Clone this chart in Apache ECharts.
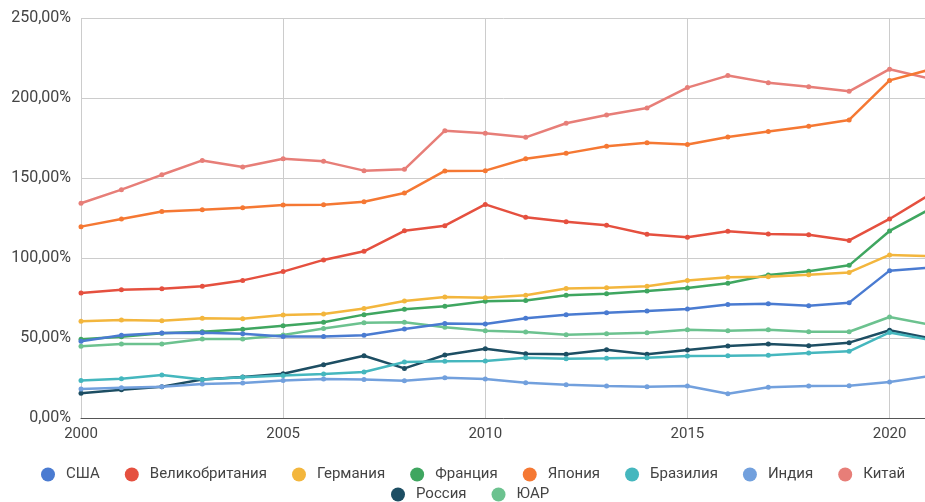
<!DOCTYPE html>
<html>
<head>
<meta charset="utf-8">
<script src="https://cdn.jsdelivr.net/npm/echarts@6/dist/echarts.min.js"></script>
<style>
  html, body { margin: 0; padding: 0; background: #fff; }
  #chart { width: 925px; height: 502px; }
</style>
</head>
<body>
<div id="chart"></div>
<script>
var years = [2000, 2001, 2002, 2003, 2004, 2005, 2006, 2007, 2008, 2009, 2010,
    2011, 2012, 2013, 2014, 2015, 2016, 2017, 2018, 2019, 2020, 2021];

var names = ['США', 'Великобритания', 'Германия', 'Франция', 'Япония',
    'Бразилия', 'Индия', 'Китай', 'Россия', 'ЮАР'];

var colors = ['#4a7bd1', '#e5503f', '#f3b63d', '#3fa660', '#f57833',
    '#45b7be', '#72a0dd', '#e77e78', '#1d4e63', '#6cc28f'];

// values in percent
var usa = [47.9, 51.7, 53.1, 53.3, 52.7, 51.0, 51.0, 51.7, 55.6, 59.0, 58.8,
    62.3, 64.6, 65.8, 66.9, 68.1, 71.0, 71.4, 70.2, 72.1, 92.1, 94.0];
var uk = [78.1, 80.2, 80.8, 82.3, 86.0, 91.5, 98.8, 104.2, 117.0, 120.2, 133.5,
    125.4, 122.7, 120.4, 114.8, 112.9, 116.7, 115.0, 114.6, 111.0, 124.4, 139.7];
var germany = [60.4, 61.3, 60.8, 62.3, 62.0, 64.4, 65.0, 68.5, 73.1, 75.6, 75.2,
    76.7, 81.0, 81.4, 82.3, 86.0, 87.9, 88.3, 89.6, 91.0, 101.9, 101.1];
var france = [49.2, 50.8, 52.9, 53.9, 55.4, 57.7, 59.8, 64.6, 67.9, 69.8, 72.9,
    73.5, 76.7, 77.7, 79.4, 81.3, 84.2, 89.4, 91.7, 95.4, 116.9, 130.6];
var japan = [119.6, 124.4, 129.0, 130.2, 131.4, 133.1, 133.3, 135.2, 140.6, 154.4, 154.6,
    162.0, 165.4, 169.8, 172.0, 171.0, 175.6, 179.0, 182.3, 186.3, 211.0, 217.8];
var brazil = [23.5, 24.6, 26.9, 24.0, 25.5, 26.5, 27.5, 28.8, 35.0, 35.4, 35.6,
    37.7, 37.1, 37.3, 37.7, 38.8, 38.9, 39.2, 40.6, 41.7, 53.5, 48.8];
var india = [18.1, 18.9, 19.6, 21.3, 21.9, 23.5, 24.4, 24.0, 23.3, 25.2, 24.4,
    22.1, 20.8, 20.0, 19.6, 20.0, 15.2, 19.2, 20.0, 20.2, 22.5, 26.3];
var china = [134.2, 142.7, 152.0, 161.0, 156.9, 162.0, 160.4, 154.6, 155.4, 179.6, 177.9,
    175.4, 184.2, 189.4, 193.8, 206.5, 214.0, 209.6, 207.0, 204.2, 218.0, 212.1];
var russia = [15.4, 17.7, 19.6, 24.0, 25.6, 27.7, 33.3, 38.9, 31.0, 39.4, 43.3,
    40.2, 39.8, 42.7, 39.8, 42.5, 45.0, 46.3, 45.2, 47.1, 54.8, 49.8];
var rsa = [44.8, 46.3, 46.3, 49.4, 49.4, 51.9, 56.0, 59.6, 59.8, 56.7, 54.6,
    53.8, 52.1, 52.7, 53.3, 55.2, 54.6, 55.2, 53.9, 53.9, 63.1, 58.3];

var yTicks = [0, 50, 100, 150, 200, 250];

var allValues = [usa, uk, germany, france, japan, brazil, india, china, russia, rsa];

function pct(v) {
    return v.toFixed(2).replace('.', ',') + '%';
}

var series = names.map(function (name, i) {
    return {
        name: name,
        type: 'line',
        data: years.map(function (y, j) { return [y, allValues[i][j]]; }),
        symbol: 'circle',
        symbolSize: 5,
        lineStyle: { width: 2.5, color: colors[i] },
        itemStyle: { color: colors[i] },
        z: 10 - i
    };
});

var chart = echarts.init(document.getElementById('chart'));

var legendText = {
    fontFamily: 'Roboto',
    fontSize: 15,
    color: '#444',
    padding: [0, 0, 0, 6]
};

chart.setOption({
    animation: false,
    color: colors,
    grid: {
        left: 81,
        top: 18,
        bottom: 84,
        right: -5,
        outerBoundsMode: 'none'
    },
    legend: [{
        data: names.slice(0, 8),
        left: 36,
        top: 462,
        width: 900,
        icon: 'circle',
        itemWidth: 14,
        itemHeight: 14,
        itemGap: 25,
        textStyle: legendText
    }, {
        data: names.slice(8),
        left: 386,
        top: 482,
        icon: 'circle',
        itemWidth: 14,
        itemHeight: 14,
        itemGap: 25,
        textStyle: legendText
    }],
    xAxis: {
        type: 'value',
        min: 2000,
        max: 2021,
        interval: 5,
        axisLine: { show: true, onZero: false, lineStyle: { color: '#555', width: 1 } },
        axisTick: { show: false },
        splitLine: { show: true, lineStyle: { color: '#cccccc', width: 1 } },
        axisLabel: {
            showMaxLabel: false,
            margin: 9,
            fontFamily: 'Roboto',
            fontSize: 15,
            color: '#444',
            formatter: function (v) { return String(v); }
        }
    },
    yAxis: {
        type: 'value',
        min: yTicks[0],
        max: yTicks[yTicks.length - 1],
        interval: 50,
        axisLine: { show: false },
        axisTick: { show: false },
        splitLine: { lineStyle: { color: '#cccccc', width: 1 } },
        axisLabel: {
            margin: 10,
            fontFamily: 'Roboto',
            fontSize: 16,
            color: '#444',
            formatter: pct
        }
    },
    series: series
});

window.onresize = chart.resize;
</script>
</body>
</html>
